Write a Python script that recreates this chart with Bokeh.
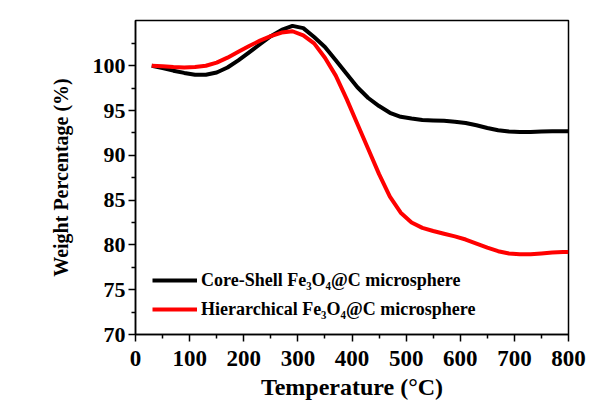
from bokeh.plotting import figure
from bokeh.models import Range1d, FixedTicker, Legend, LegendItem
from bokeh.embed import file_html
from bokeh.resources import INLINE

temp = [30, 50, 70, 90, 110, 130, 150, 170, 190, 210, 230, 250, 270, 290, 310, 330,
        350, 370, 390, 410, 430, 450, 470, 490, 510, 530, 550, 570, 590, 610, 630,
        650, 670, 690, 710, 730, 750, 770, 790, 800]

core_shell = [100.0, 99.75, 99.45, 99.2, 99.0, 99.0, 99.25, 99.8, 100.6, 101.5, 102.4,
              103.3, 104.0, 104.45, 104.2, 103.2, 102.1, 100.6, 99.1, 97.6, 96.4, 95.5,
              94.75, 94.3, 94.1, 93.95, 93.9, 93.85, 93.75, 93.6, 93.35, 93.05, 92.8,
              92.65, 92.6, 92.6, 92.65, 92.7, 92.7, 92.7]

hierarchical = [100.0, 99.95, 99.85, 99.8, 99.85, 100.0, 100.35, 100.9, 101.55, 102.2,
                102.8, 103.3, 103.7, 103.85, 103.4, 102.5, 100.9, 98.9, 96.3, 93.5, 90.7,
                87.9, 85.4, 83.6, 82.5, 81.9, 81.55, 81.25, 80.95, 80.6, 80.15, 79.7,
                79.3, 79.05, 78.95, 78.95, 79.05, 79.15, 79.2, 79.2]

x_ticks = [0, 100, 200, 300, 400, 500, 600, 700, 800]
x_minor = [50, 150, 250, 350, 450, 550, 650, 750]
y_ticks = [70, 75, 80, 85, 90, 95, 100]
y_minor = [72.5, 77.5, 82.5, 87.5, 92.5, 97.5, 102.5]

labels = ["Core-Shell Fe\u2083O\u2084@C microsphere",
          "Hierarchical Fe\u2083O\u2084@C microsphere"]
colors = ["#000000", "#ff0000"]

FONT = "Liberation Serif"

p = figure(width=600, height=402, output_backend="svg", toolbar_location=None,
           x_range=Range1d(0, 800), y_range=Range1d(70, 105.05))
p.min_border_left = 135
p.min_border_right = 32
p.min_border_top = 20
p.min_border_bottom = 56
p.background_fill_color = "white"
p.border_fill_color = "white"
p.outline_line_color = "black"
p.outline_line_width = 1.5
p.xgrid.visible = False
p.ygrid.visible = False

r1 = p.line(temp, core_shell, line_color=colors[0], line_width=4)
r2 = p.line(temp, hierarchical, line_color=colors[1], line_width=4)

for ax, ticks, minor in ((p.xaxis[0], x_ticks, x_minor), (p.yaxis[0], y_ticks, y_minor)):
    ax.ticker = FixedTicker(ticks=ticks, minor_ticks=minor)
    ax.axis_line_width = 1.5
    ax.major_tick_line_width = 1.5
    ax.minor_tick_line_width = 1.5
    ax.major_tick_in = 0
    ax.major_tick_out = 7
    ax.minor_tick_in = 0
    ax.minor_tick_out = 4
    ax.major_label_text_font = FONT
    ax.major_label_text_font_style = "bold"
    ax.major_label_text_color = "black"
    ax.axis_label_text_font = FONT
    ax.axis_label_text_font_style = "bold"
    ax.axis_label_text_color = "black"

p.xaxis.major_label_text_font_size = "23px"
p.yaxis.major_label_text_font_size = "22px"
p.xaxis.axis_label_text_font_size = "24px"
p.yaxis.axis_label_text_font_size = "20px"
p.xaxis.axis_label = "Temperature (\u00b0C)"
p.yaxis.axis_label = "Weight Percentage (%)"
p.xaxis.major_label_standoff = 9
p.yaxis.major_label_standoff = 3
p.xaxis.axis_label_standoff = 5
p.yaxis.axis_label_standoff = 18

legend = Legend(items=[LegendItem(label=labels[0], renderers=[r1]),
                       LegendItem(label=labels[1], renderers=[r2])],
                location=(17, 12))
legend.label_text_font = FONT
legend.label_text_font_style = "bold"
legend.label_text_font_size = "18px"
legend.label_text_color = "black"
legend.border_line_color = None
legend.background_fill_alpha = 0
legend.padding = 0
legend.margin = 0
legend.spacing = 3
legend.glyph_width = 45
legend.glyph_height = 26
legend.label_height = 26
legend.label_standoff = 4
p.add_layout(legend)

open("out.html", "w").write(file_html(p, INLINE))
